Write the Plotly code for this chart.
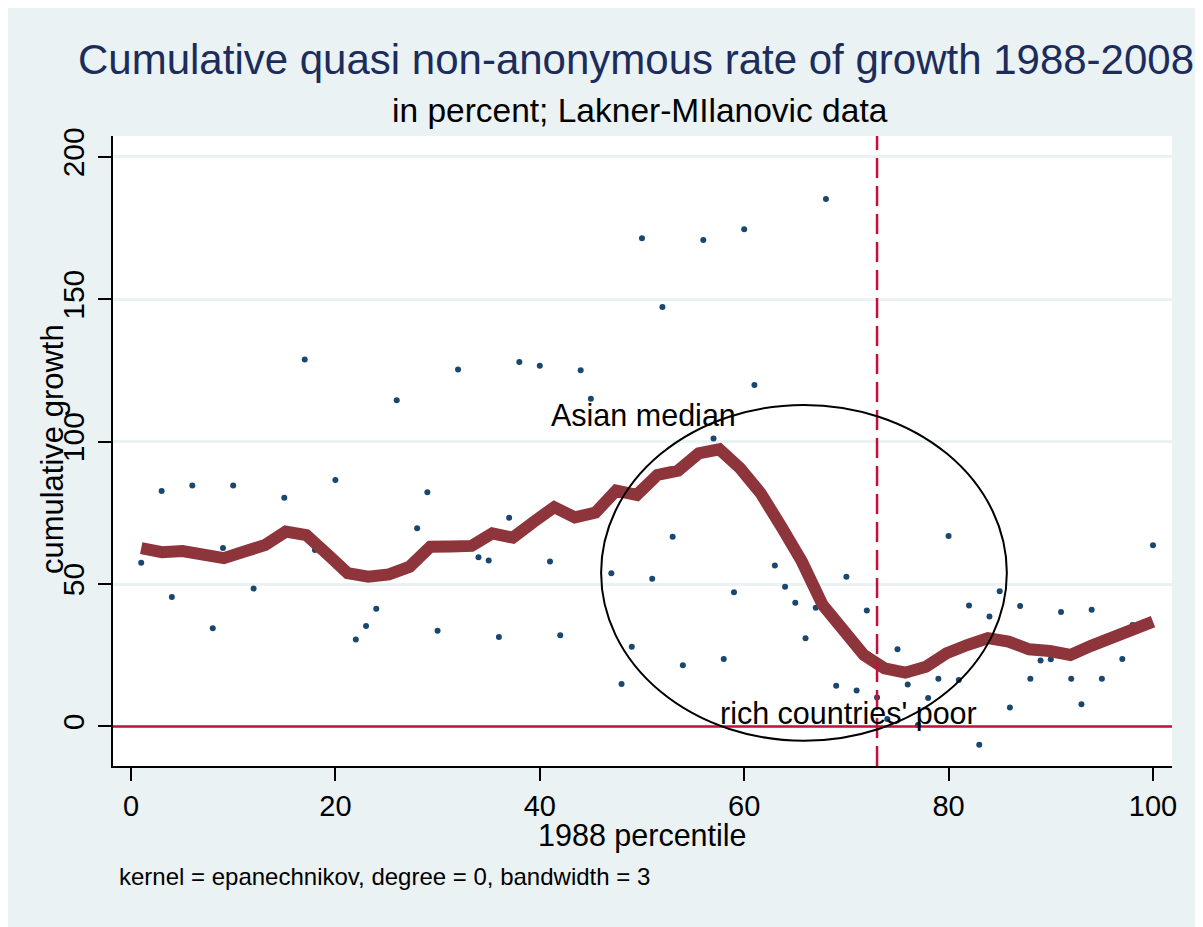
import plotly.graph_objects as go

# ---- data ----
pct = [1, 3, 4, 6, 8, 9, 10, 12, 15, 17, 18, 20, 22, 23, 24, 26, 28, 29, 30, 32,
       34, 35, 36, 37, 38, 40, 41, 42, 44, 45, 47, 48, 49, 50, 51, 52, 53, 54, 56, 57,
       58, 59, 60, 61, 63, 64, 65, 66, 67, 68, 69, 70, 71, 72, 73, 74, 75, 76, 77, 78,
       79, 80, 81, 82, 83, 84, 85, 86, 87, 88, 89, 90, 91, 92, 93, 94, 95, 97, 98, 100]
growth = [57.5, 82.7, 45.5, 84.6, 34.5, 62.7, 84.6, 48.4, 80.3, 128.8, 62.0, 86.5, 30.5, 35.3, 41.3, 114.5, 69.6, 82.2, 33.6, 125.3,
          59.4, 58.3, 31.4, 73.3, 128.0, 126.6, 57.9, 32.0, 125.1, 115.1, 53.8, 14.9, 28.0, 171.4, 51.9, 147.3, 66.6, 21.5, 170.8, 101.1,
          23.7, 47.1, 174.6, 119.9, 56.5, 49.1, 43.4, 31.0, 41.7, 185.2, 14.3, 52.6, 12.6, 40.7, 10.2, 2.6, 27.1, 14.7, 0.5, 10.0,
          16.8, 66.9, 16.3, 42.5, -6.4, 38.6, 47.5, 6.7, 42.3, 16.8, 23.2, 23.6, 40.2, 16.8, 7.8, 41.0, 16.8, 23.7, 35.6, 63.6]

smooth_x = [1, 3.02, 5.04, 7.06, 9.08, 11.1, 13.12, 15.14, 17.16, 19.18, 21.2, 23.22, 25.24, 27.27, 29.29,
            31.31, 33.33, 35.35, 37.37, 39.39, 41.41, 43.43, 45.45, 47.47, 49.49, 51.51, 53.53, 55.55, 57.57,
            59.59, 61.61, 63.63, 65.65, 67.67, 69.69, 71.71, 73.73, 75.76, 77.78, 79.8, 81.82, 83.84, 85.86,
            87.88, 89.9, 91.92, 93.94, 95.96, 97.98, 100]
smooth_y = [62.6, 61.2, 61.6, 60.3, 59.1, 61.4, 63.7, 68.4, 67.2, 60.6, 53.8, 52.6, 53.4, 56.1, 63.1,
            63.2, 63.4, 67.8, 66.3, 71.8, 77.0, 73.4, 75.1, 82.8, 81.3, 88.3, 89.8, 95.9, 97.3,
            90.7, 81.9, 70.2, 57.9, 42.7, 33.3, 25.1, 20.4, 18.9, 21.0, 25.7, 28.6, 31.0, 29.8,
            27.1, 26.5, 25.1, 28.3, 31.0, 33.9, 36.8]

x_ticks = [0, 20, 40, 60, 80, 100]
y_ticks = [0, 50, 100, 150, 200]
cutoff_pct = 73
ellipse_x = [46.0, 85.7]
ellipse_y = [-5.0, 112.9]

BG = "#EAF2F3"
RED = "#C4103A"
FONT = "Liberation Sans, Arial, sans-serif"

fig = go.Figure()
fig.add_trace(go.Scatter(x=pct, y=growth, mode="markers",
                         marker=dict(color="#1A476F", size=6), showlegend=False))
fig.add_trace(go.Scatter(x=smooth_x, y=smooth_y, mode="lines",
                         line=dict(color="#8E343B", width=12), showlegend=False))

# reference lines and ellipse
fig.add_shape(type="line", xref="paper", x0=0, x1=1, yref="y", y0=0, y1=0,
              line=dict(color=RED, width=2.5), layer="above")
fig.add_shape(type="line", xref="x", x0=cutoff_pct, x1=cutoff_pct, yref="paper", y0=0, y1=1,
              line=dict(color=RED, width=2.5, dash="20px,8px"), layer="above")
fig.add_shape(type="circle", xref="x", yref="y", x0=ellipse_x[0], x1=ellipse_x[1],
              y0=ellipse_y[0], y1=ellipse_y[1], line=dict(color="black", width=2), layer="above")

ann = []
ann.append(dict(text="Cumulative quasi non-anonymous rate of growth 1988-2008", xref="paper", yref="paper",
                x=0.4939, y=1.1216, xanchor="center", yanchor="middle", showarrow=False,
                font=dict(size=42, color="#1C2C5B", family=FONT)))
ann.append(dict(text="in percent; Lakner-MIlanovic data", xref="paper", yref="paper",
                x=0.4976, y=1.0405, xanchor="center", yanchor="middle", showarrow=False,
                font=dict(size=33.5, color="black", family=FONT)))
ann.append(dict(text="cumulative growth", xref="paper", yref="paper", x=-0.0576, y=0.503,
                xanchor="center", yanchor="middle", textangle=-90, showarrow=False,
                font=dict(size=31, color="black", family=FONT)))
ann.append(dict(text="1988 percentile", xref="paper", yref="paper", x=0.5, y=-0.111,
                xanchor="center", yanchor="middle", showarrow=False,
                font=dict(size=30.5, color="black", family=FONT)))
ann.append(dict(text="kernel = epanechnikov, degree = 0, bandwidth = 3", xref="paper", yref="paper",
                x=0.0038, y=-0.176, xanchor="left", yanchor="middle", showarrow=False,
                font=dict(size=24, color="black", family=FONT)))
ann.append(dict(text="Asian median", xref="x", yref="y", x=40.9, y=109.4,
                xanchor="left", yanchor="middle", showarrow=False,
                font=dict(size=30.5, color="black", family=FONT)))
ann.append(dict(text="rich countries' poor", xref="x", yref="y", x=57.4, y=4.4,
                xanchor="left", yanchor="middle", showarrow=False,
                font=dict(size=30.5, color="black", family=FONT)))

# page body has an 8px margin, so the figure is 8px smaller and the plot area is
# placed so that it lands at the reference's pixel positions
fig.update_layout(
    width=1195, height=919,
    margin=dict(l=105, r=31, t=128, b=161),
    paper_bgcolor=BG, plot_bgcolor="white",
    font=dict(family=FONT, color="black"),
    annotations=ann,
    xaxis=dict(range=[-1.76, 101.86], tickvals=x_ticks, showgrid=False, zeroline=False,
               showline=True, linecolor="black", linewidth=1.5,
               ticks="outside", ticklen=13, tickwidth=1.5, tickcolor="black",
               tickfont=dict(size=29, color="black"), ticklabelstandoff=0),
    yaxis=dict(range=[-13.87, 207.3], tickvals=y_ticks, showgrid=True,
               gridcolor=BG, gridwidth=2.5, zeroline=False,
               showline=True, linecolor="black", linewidth=1.5,
               ticks="outside", ticklen=13, tickwidth=1.5, tickcolor="black",
               tickangle=-90, tickfont=dict(size=30, color="black"), ticklabelstandoff=2),
)

fig.write_html("out.html")
